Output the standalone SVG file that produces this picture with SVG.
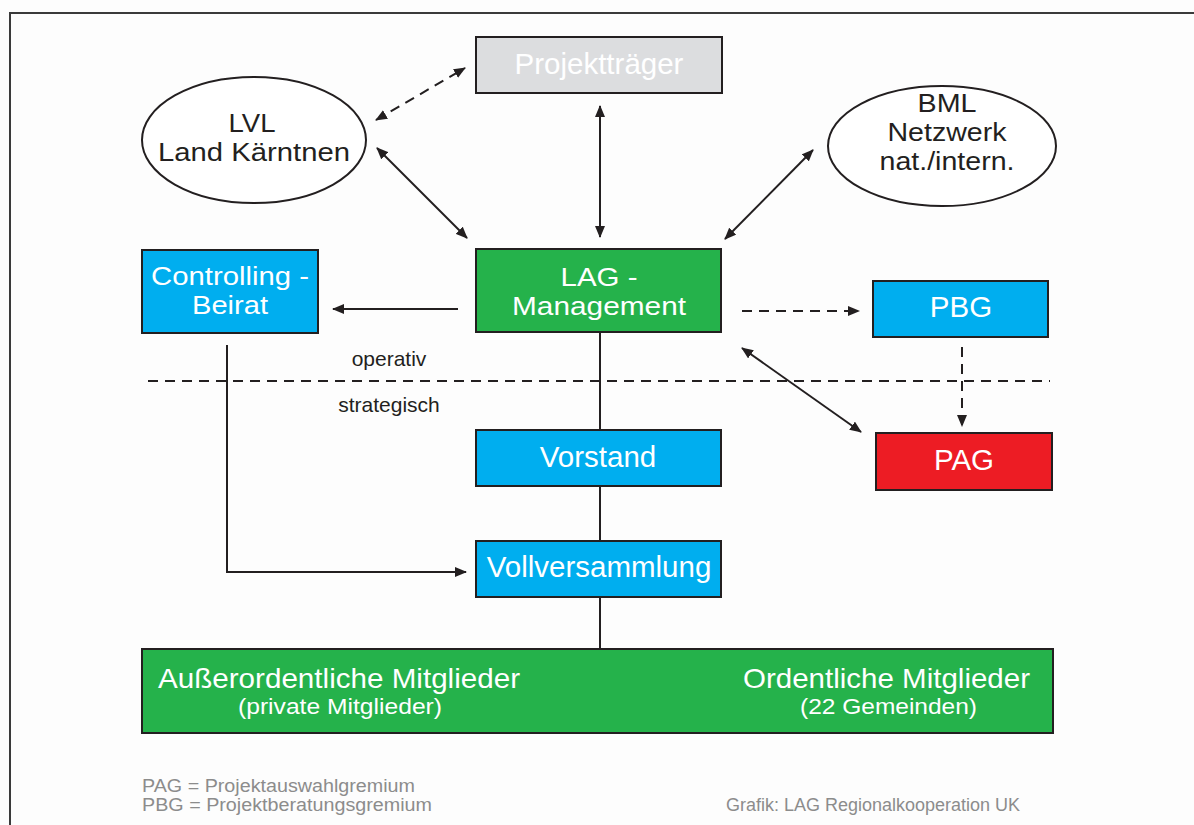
<svg xmlns="http://www.w3.org/2000/svg" width="1194" height="825" viewBox="0 0 1194 825">
<defs>
<marker id="ah" viewBox="0 0 12 10" refX="11" refY="5" markerWidth="12" markerHeight="10" markerUnits="userSpaceOnUse" orient="auto-start-reverse">
<path d="M0,0 L12,5 L0,10 z" fill="#231f20"/>
</marker>
<style>
.box{stroke:#231f20;stroke-width:2}
.t{font-family:"Liberation Sans",Arial,sans-serif;fill:#fff;text-anchor:middle}
.ts{font-family:"Liberation Sans",Arial,sans-serif;fill:#fff}
.tb{font-family:"Liberation Sans",Arial,sans-serif;fill:#231f20;text-anchor:middle}
.c{stroke:#231f20;stroke-width:2;fill:none}
.cd{stroke:#231f20;stroke-width:2;fill:none;stroke-dasharray:10 7}
.g{font-family:"Liberation Sans",Arial,sans-serif;fill:#8c8c8c;font-size:17.5px}
</style>
</defs>
<rect x="0" y="0" width="1194" height="825" fill="#fdfdfd"/>
<path d="M10,830 L10,13 L1200,13" fill="none" stroke="#3a3a3a" stroke-width="2"/>

<g id="connectors">
<line class="cd" x1="148" y1="381" x2="1050" y2="381"/>
<line class="c" x1="600" y1="333" x2="600" y2="430"/>
<line class="c" x1="600" y1="486" x2="600" y2="541"/>
<line class="c" x1="600" y1="597" x2="600" y2="649"/>
<polyline class="c" points="227,345 227,572 466,572" marker-end="url(#ah)"/>
<line class="c" x1="458" y1="309" x2="333" y2="309" marker-end="url(#ah)"/>
<line class="cd" x1="742" y1="311" x2="859" y2="311" marker-end="url(#ah)"/>
<line class="cd" x1="962" y1="347" x2="962" y2="426" marker-end="url(#ah)"/>
<line class="c" x1="742" y1="348" x2="861" y2="432" marker-start="url(#ah)" marker-end="url(#ah)"/>
<line class="c" x1="600" y1="106" x2="600" y2="237" stroke-width="2.5" marker-start="url(#ah)" marker-end="url(#ah)"/>
<line class="cd" x1="376" y1="120" x2="465" y2="68" stroke-dasharray="7 4" marker-start="url(#ah)" marker-end="url(#ah)"/>
<line class="c" x1="377" y1="148" x2="467" y2="238" stroke-width="2.5" marker-start="url(#ah)" marker-end="url(#ah)"/>
<line class="c" x1="813" y1="150" x2="725" y2="239" marker-start="url(#ah)" marker-end="url(#ah)"/>
</g>

<g id="projekttraeger">
<rect class="box" x="476" y="37" width="246" height="56" fill="#dcdddf"/>
<text class="t" x="599" y="74" font-size="29.5">Projektträger</text>
</g>
<g id="lvl">
<ellipse cx="254" cy="140" rx="112" ry="63" fill="#fff" stroke="#231f20" stroke-width="2"/>
<text class="tb" x="252" y="132" font-size="26" textLength="47" lengthAdjust="spacingAndGlyphs">LVL</text>
<text class="tb" x="254" y="161" font-size="26" textLength="192" lengthAdjust="spacingAndGlyphs">Land Kärntnen</text>
</g>
<g id="bml">
<ellipse cx="942" cy="146" rx="114" ry="60" fill="#fff" stroke="#231f20" stroke-width="2"/>
<text class="tb" x="947" y="112" font-size="25.5" textLength="59" lengthAdjust="spacingAndGlyphs">BML</text>
<text class="tb" x="947" y="141" font-size="25.5" textLength="119" lengthAdjust="spacingAndGlyphs">Netzwerk</text>
<text class="tb" x="947" y="170" font-size="25.5" textLength="135" lengthAdjust="spacingAndGlyphs">nat./intern.</text>
</g>
<g id="controlling">
<rect class="box" x="142" y="250" width="176" height="83" fill="#00aeef"/>
<text class="t" x="230" y="285" font-size="26" textLength="158" lengthAdjust="spacingAndGlyphs">Controlling -</text>
<text class="t" x="230" y="314" font-size="26" textLength="76" lengthAdjust="spacingAndGlyphs">Beirat</text>
</g>
<g id="lag">
<rect class="box" x="476" y="249" width="245" height="83" fill="#25b24b"/>
<text class="t" x="599" y="286" font-size="26" textLength="77" lengthAdjust="spacingAndGlyphs">LAG -</text>
<text class="t" x="599" y="315" font-size="26" textLength="174" lengthAdjust="spacingAndGlyphs">Management</text>
</g>
<g id="pbg">
<rect class="box" x="873" y="281" width="175" height="56" fill="#00aeef"/>
<text class="t" x="961" y="317" font-size="29.5">PBG</text>
</g>
<g id="pag">
<rect class="box" x="876" y="433" width="176" height="57" fill="#ed1c24"/>
<text class="t" x="964" y="470" font-size="29.5">PAG</text>
</g>
<g id="vorstand">
<rect class="box" x="476" y="430" width="245" height="56" fill="#00aeef"/>
<text class="t" x="598" y="467" font-size="29.5">Vorstand</text>
</g>
<g id="vollversammlung">
<rect class="box" x="476" y="541" width="245" height="56" fill="#00aeef"/>
<text class="t" x="599" y="577" font-size="29.5">Vollversammlung</text>
</g>
<g id="mitglieder">
<rect class="box" x="142" y="649" width="911" height="84" fill="#25b24b"/>
<text class="ts" x="158" y="688" font-size="28" textLength="362" lengthAdjust="spacingAndGlyphs">Außerordentliche Mitglieder</text>
<text class="ts" x="238" y="714" font-size="21.5" textLength="204" lengthAdjust="spacingAndGlyphs">(private Mitglieder)</text>
<text class="ts" x="743" y="688" font-size="28" textLength="287" lengthAdjust="spacingAndGlyphs">Ordentliche Mitglieder</text>
<text class="ts" x="800" y="714" font-size="21.5" textLength="177" lengthAdjust="spacingAndGlyphs">(22 Gemeinden)</text>
</g>
<g id="labels">
<text class="tb" x="389" y="366" font-size="21">operativ</text>
<text class="tb" x="389" y="412" font-size="21">strategisch</text>
<text class="g" x="142" y="792" textLength="273" lengthAdjust="spacingAndGlyphs">PAG = Projektauswahlgremium</text>
<text class="g" x="142" y="811" textLength="290" lengthAdjust="spacingAndGlyphs">PBG = Projektberatungsgremium</text>
<text class="g" x="726" y="811" textLength="294" lengthAdjust="spacingAndGlyphs">Grafik: LAG Regionalkooperation UK</text>
</g>
</svg>
